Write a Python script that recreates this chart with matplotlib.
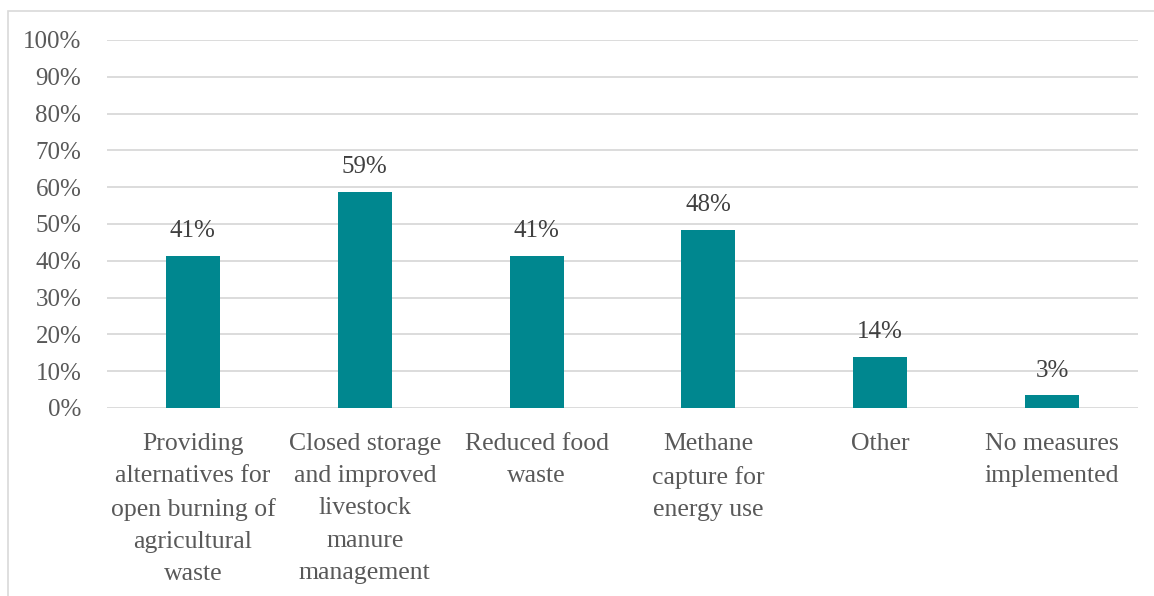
import matplotlib
matplotlib.use("Agg")
import matplotlib.pyplot as plt
from matplotlib.patches import Rectangle

categories = [
    "Providing\nalternatives for\nopen burning of\nagricultural\nwaste",
    "Closed storage\nand improved\nlivestock\nmanure\nmanagement",
    "Reduced food\nwaste",
    "Methane\ncapture for\nenergy use",
    "Other",
    "No measures\nimplemented",
]
values = [41.3, 58.6, 41.3, 48.3, 13.8, 3.4]
value_labels = ["41%", "59%", "41%", "48%", "14%", "3%"]
yticks = list(range(0, 101, 10))
ytick_labels = [f"{t}%" for t in yticks]

W, H = 1154, 596
fig = plt.figure(figsize=(W / 100, H / 100), dpi=100)
plt.rcParams['font.family'] = ['Liberation Serif', 'DejaVu Serif']
text_color = "#595959"
grid_color = "#D9D9D9"
bar_color = "#00878F"
FS = 18

# outer border
fig.patches.append(Rectangle((8 / W, -0.01), 1.5, (H - 11) / H + 0.01,
                             transform=fig.transFigure, fill=False,
                             edgecolor=grid_color, linewidth=1.2))

ax = fig.add_axes([107 / W, (H - 408) / H, (1138 - 107) / W, (408 - 40) / H])
x = list(range(len(categories)))
ax.bar(x, values, width=0.315, color=bar_color, zorder=3)
ax.set_xlim(-0.5, len(categories) - 0.5)
ax.set_ylim(0, 100)
ax.set_yticks(yticks)
ax.set_yticklabels(ytick_labels, fontsize=FS, color=text_color)
ax.set_xticks(x)
ax.set_xticklabels(categories, fontsize=18.5, color=text_color, linespacing=1.6,
                   va="top")
ax.tick_params(axis="both", length=0)
ax.tick_params(axis="y", pad=18.5)
ax.tick_params(axis="x", pad=18)
ax.grid(axis="y", color=grid_color, linewidth=1.3, zorder=0)
for s in ax.spines.values():
    s.set_visible(False)

for xi, v, lab in zip(x, values, value_labels):
    ax.annotate(lab, (xi, v), xytext=(0, 10), textcoords="offset points",
                ha="center", va="bottom", fontsize=FS, color="#404040")

fig.savefig("out.png", dpi=100)
